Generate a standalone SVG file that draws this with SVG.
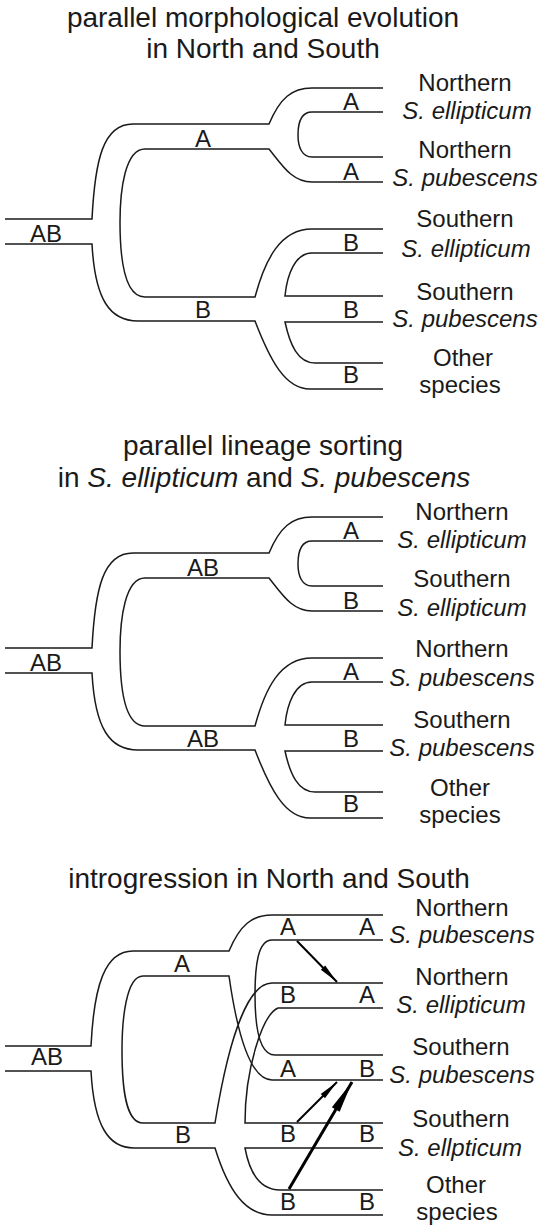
<svg xmlns="http://www.w3.org/2000/svg" width="541" height="1229" viewBox="0 0 541 1229">
<style>
.br{fill:none;stroke:#1a1a1a;stroke-width:1.5}
.ar{fill:none;stroke:#000;stroke-width:2}
.ar3{fill:none;stroke:#000;stroke-width:3}
text{font-family:"Liberation Sans",Arial,sans-serif;fill:#1a1a1a}
.ttl{font-size:28px;text-anchor:middle}
.lab{font-size:24px;text-anchor:middle}
.sp{font-size:24px;text-anchor:middle}
.i{font-style:italic}
</style>
<defs>
<marker id="ah" markerUnits="userSpaceOnUse" markerWidth="22" markerHeight="8" refX="20" refY="0" orient="auto" overflow="visible">
<path d="M0,-3 L20,0 L0,3 z" fill="#000"/>
</marker>
<marker id="ahb" markerUnits="userSpaceOnUse" markerWidth="34" markerHeight="10" refX="32" refY="0" orient="auto" overflow="visible">
<path d="M0,-4.5 L32,0 L0,4.5 z" fill="#000"/>
</marker>
</defs>
<rect width="541" height="1229" fill="#fff"/>

<!-- Panel 1 -->
<g id="panel1">
<g id="p1-title">
<text class="ttl" x="263" y="27">parallel morphological evolution</text>
<text class="ttl" x="263" y="58">in North and South</text>
</g>
<g id="p1-connectors">
<path class="br" d="M5,219 L92,219 C95,160 103,124 133,124 L269,124 C280,98 292,88 312,88 L383,88"/>
<path class="br" d="M383,112 L312,112 C300,112 298,124 298,135 C298,147 302,157 312,157 L383,157"/>
<path class="br" d="M383,182 L312,182 C292,182 282,165 269,149 L145,149 C125,149 120,190 120,222 C120,260 125,297 145,297 L255,297 C265,260 280,229 312,229 L383,229"/>
<path class="br" d="M383,253 L312,253 C295,253 287,275 285,296 L383,296"/>
<path class="br" d="M383,322 L285,322 C290,345 298,363 315,363 L383,363"/>
<path class="br" d="M5,244 L92,244 C95,300 110,321 138,321 L255,321 C270,360 285,389 310,389 L383,389"/>
</g>
<g id="p1-branch-labels">
<text class="lab" x="351" y="110">A</text>
<text class="lab" x="203" y="147">A</text>
<text class="lab" x="351" y="180">A</text>
<text class="lab" x="46" y="242">AB</text>
<text class="lab" x="351" y="251">B</text>
<text class="lab" x="203" y="318">B</text>
<text class="lab" x="351" y="318">B</text>
<text class="lab" x="351" y="383">B</text>
</g>
<g id="p1-n-ellipticum"><text class="sp" x="465" y="91">Northern</text><text class="sp i" x="467" y="119">S. ellipticum</text></g>
<g id="p1-n-pubescens"><text class="sp" x="465" y="158">Northern</text><text class="sp i" x="465" y="186">S. pubescens</text></g>
<g id="p1-s-ellipticum"><text class="sp" x="465" y="227">Southern</text><text class="sp i" x="466" y="257">S. ellipticum</text></g>
<g id="p1-s-pubescens"><text class="sp" x="465" y="300">Southern</text><text class="sp i" x="465" y="327">S. pubescens</text></g>
<g id="p1-other"><text class="sp" x="463" y="366">Other</text><text class="sp" x="460" y="393">species</text></g>
</g>

<!-- Panel 2 -->
<g id="panel2">
<g id="p2-title">
<text class="ttl" x="263" y="455">parallel lineage sorting</text>
<text class="ttl" x="264" y="487">in <tspan class="i">S. ellipticum</tspan> and <tspan class="i">S. pubescens</tspan></text>
</g>
<g id="p2-connectors" transform="translate(0,429)">
<path class="br" d="M5,219 L92,219 C95,160 103,124 133,124 L269,124 C280,98 292,88 312,88 L383,88"/>
<path class="br" d="M383,112 L312,112 C300,112 298,124 298,135 C298,147 302,157 312,157 L383,157"/>
<path class="br" d="M383,182 L312,182 C292,182 282,165 269,149 L145,149 C125,149 120,190 120,222 C120,260 125,297 145,297 L255,297 C265,260 280,229 312,229 L383,229"/>
<path class="br" d="M383,253 L312,253 C295,253 287,275 285,296 L383,296"/>
<path class="br" d="M383,322 L285,322 C290,345 298,363 315,363 L383,363"/>
<path class="br" d="M5,244 L92,244 C95,300 110,321 138,321 L255,321 C270,360 285,389 310,389 L383,389"/>
</g>
<g id="p2-branch-labels">
<text class="lab" x="351" y="539">A</text>
<text class="lab" x="203" y="576">AB</text>
<text class="lab" x="351" y="609">B</text>
<text class="lab" x="46" y="671">AB</text>
<text class="lab" x="351" y="680">A</text>
<text class="lab" x="203" y="747">AB</text>
<text class="lab" x="351" y="747">B</text>
<text class="lab" x="351" y="812">B</text>
</g>
<g id="p2-n-ellipticum"><text class="sp" x="462" y="520">Northern</text><text class="sp i" x="462" y="548">S. ellipticum</text></g>
<g id="p2-s-ellipticum"><text class="sp" x="462" y="587">Southern</text><text class="sp i" x="462" y="616">S. ellipticum</text></g>
<g id="p2-n-pubescens"><text class="sp" x="462" y="657">Northern</text><text class="sp i" x="462" y="686">S. pubescens</text></g>
<g id="p2-s-pubescens"><text class="sp" x="462" y="728">Southern</text><text class="sp i" x="462" y="756">S. pubescens</text></g>
<g id="p2-other"><text class="sp" x="460" y="796">Other</text><text class="sp" x="460" y="823">species</text></g>
</g>

<!-- Panel 3 -->
<g id="panel3">
<g id="p3-title">
<text class="ttl" x="269" y="888">introgression in North and South</text>
</g>
<g id="p3-connectors">
<path class="br" d="M5,1046 L91,1046 C94,985 105,951 133,951 L229,951 C240,925 252,915 272,915 L383,915"/>
<path class="br" d="M383,940 L272,940 C258,940 255,965 255,995 C255,1030 260,1055 275,1055 L383,1055"/>
<path class="br" d="M383,983 L272,983 C240,983 222,1080 215,1123 L143,1123 C126,1123 122,1090 122,1050 C122,1020 126,976 143,976 L229,976 C236,1025 248,1080 272,1080 L383,1080"/>
<path class="br" d="M383,1008 L278,1008 C262,1015 245,1070 245,1123 L383,1123"/>
<path class="br" d="M383,1148 L245,1148 C250,1175 262,1190 280,1190 L383,1190"/>
<path class="br" d="M5,1071 L91,1071 C94,1127 109,1148 134,1148 L215,1148 C228,1190 245,1215 272,1215 L383,1215"/>
</g>
<g id="p3-arrows">
<line class="ar" x1="297" y1="941" x2="337" y2="982" marker-end="url(#ah)"/>
<line class="ar" x1="297" y1="1122" x2="337" y2="1082" marker-end="url(#ah)"/>
<line class="ar3" x1="289" y1="1189" x2="352" y2="1082" marker-end="url(#ahb)"/>
</g>
<g id="p3-branch-labels">
<text class="lab" x="288" y="935">A</text>
<text class="lab" x="367" y="935">A</text>
<text class="lab" x="182" y="972">A</text>
<text class="lab" x="288" y="1003">B</text>
<text class="lab" x="367" y="1003">A</text>
<text class="lab" x="47" y="1065">AB</text>
<text class="lab" x="288" y="1077">A</text>
<text class="lab" x="367" y="1077">B</text>
<text class="lab" x="183" y="1143">B</text>
<text class="lab" x="288" y="1142">B</text>
<text class="lab" x="367" y="1142">B</text>
<text class="lab" x="288" y="1210">B</text>
<text class="lab" x="367" y="1210">B</text>
</g>
<g id="p3-n-pubescens"><text class="sp" x="462" y="916">Northern</text><text class="sp i" x="462" y="943">S. pubescens</text></g>
<g id="p3-n-ellipticum"><text class="sp" x="462" y="985">Northern</text><text class="sp i" x="461" y="1013">S. ellipticum</text></g>
<g id="p3-s-pubescens"><text class="sp" x="461" y="1055">Southern</text><text class="sp i" x="462" y="1083">S. pubescens</text></g>
<g id="p3-s-ellipticum"><text class="sp" x="461" y="1127">Southern</text><text class="sp i" x="460" y="1156">S. ellpticum</text></g>
<g id="p3-other"><text class="sp" x="456" y="1193">Other</text><text class="sp" x="457" y="1220">species</text></g>
</g>
</svg>
